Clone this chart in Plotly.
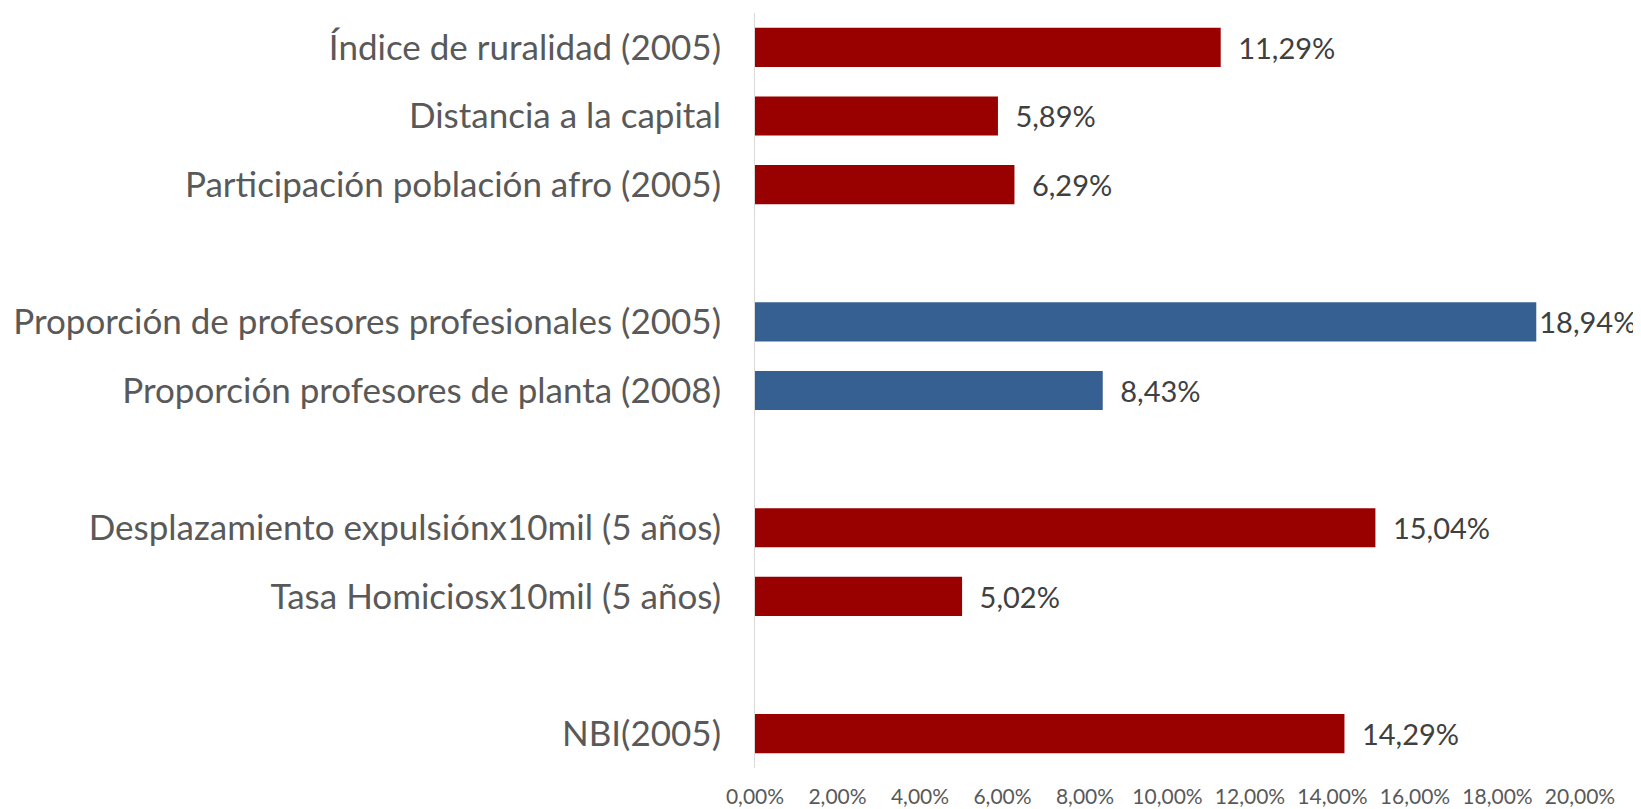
import plotly.graph_objects as go

categories = [
    "Índice de ruralidad (2005)",
    "Distancia a la capital",
    "Participación población afro (2005)",
    "",
    "Proporción de profesores profesionales (2005)",
    "Proporción profesores de planta (2008)",
    "",
    "Desplazamiento expulsiónx10mil (5 años)",
    "Tasa Homiciosx10mil (5 años)",
    "",
    "NBI(2005)",
]
values = [11.29, 5.89, 6.29, None, 18.94, 8.43, None, 15.04, 5.02, None, 14.29]
groups = ["red", "red", "red", None, "blue", "blue", None, "red", "red", None, "red"]
tick_values = [0, 2, 4, 6, 8, 10, 12, 14, 16, 18, 20]
tick_labels = ["0,00%", "2,00%", "4,00%", "6,00%", "8,00%", "10,00%", "12,00%",
               "14,00%", "16,00%", "18,00%", "20,00%"]

color_map = {"red": "#990000", "blue": "#366092"}
x_max = tick_values[-1]

ys, xs, cols, texts = [], [], [], []
for i, (v, g) in enumerate(zip(values, groups)):
    if v is None:
        continue
    ys.append(i)
    xs.append(v)
    cols.append(color_map[g])
    # like the spreadsheet, squeeze the gap for labels near the right edge
    pad = "" if v > x_max - 2 else "\u2002"
    texts.append(pad + f"{v:.2f}%".replace(".", ","))

fig = go.Figure()
fig.add_trace(go.Bar(
    x=xs, y=ys, orientation="h",
    marker=dict(color=cols, line=dict(width=0)),
    text=texts, textposition="outside",
    textfont=dict(family="Lato", size=29, color="#404040"),
    cliponaxis=False, constraintext="none",
    hoverinfo="skip",
))

# the page body adds an 8px offset, so the figure is 8px smaller
fig.update_layout(
    width=1633, height=801,
    margin=dict(l=747, r=61, t=5, b=41, autoexpand=False),
    paper_bgcolor="white", plot_bgcolor="white",
    bargap=0.43,
    showlegend=False,
    font=dict(family="Lato", color="#595959"),
)
fig.update_xaxes(
    range=[0, x_max], tickvals=tick_values, ticktext=tick_labels,
    showgrid=False, zeroline=False, showline=False, automargin=False,
    ticks="outside", ticklen=0, ticklabelstandoff=10,
    tickfont=dict(family="Lato", size=21, color="#595959"),
)
fig.update_yaxes(
    range=[len(categories) - 0.5, -0.5],
    tickvals=list(range(len(categories))), ticktext=categories,
    showgrid=False, zeroline=False, automargin=False,
    showline=True, linecolor="#D9D9D9", linewidth=1,
    ticks="outside", ticklen=0, ticklabelstandoff=26,
    tickfont=dict(family="Lato", size=35, color="#595959"),
)

fig.write_html("out.html")
